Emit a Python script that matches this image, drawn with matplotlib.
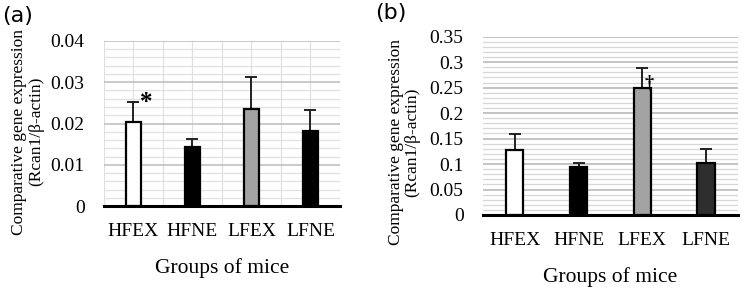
import matplotlib.pyplot as plt
import numpy as np

groups = ["HFEX", "HFNE", "LFEX", "LFNE"]

# panel (a)
means_a = [0.0204, 0.0144, 0.0235, 0.0182]
errs_a = [0.0049, 0.0018, 0.0077, 0.0051]
colors_a = ["white", "black", "#a3a3a3", "black"]

# panel (b)
means_b = [0.127, 0.094, 0.250, 0.102]
errs_b = [0.032, 0.008, 0.038, 0.027]
colors_b = ["white", "black", "#a3a3a3", "#2e2e2e"]

plt.rcParams['font.family'] = ['Liberation Serif', 'DejaVu Serif']

fig = plt.figure(figsize=(7.48, 2.92), dpi=100)
ax_a = fig.add_axes([0.139, 0.2945, 0.3155, 0.5651])
ax_b = fig.add_axes([0.6457, 0.2637, 0.3409, 0.6106])


def draw_panel(ax, means, errs, colors, ymax, major, minor, vgrid, gmaj, gmin):
    x = np.arange(len(groups))
    ax.bar(x, means, 0.27, color=colors, edgecolor="black", linewidth=1.6, zorder=3)
    ax.errorbar(x, means, yerr=[np.zeros(len(errs)), errs], fmt="none",
                ecolor="#222222", elinewidth=1.4, capsize=4, capthick=1.4, zorder=2)
    ax.set_xlim(-0.5, len(groups) - 0.5)
    ax.set_ylim(0, ymax)
    ax.set_yticks(np.arange(0, ymax + major / 2, major))
    ax.set_yticks(np.arange(0, ymax + minor / 2, minor), minor=True)
    ax.grid(axis="y", which="major", color=gmaj, linewidth=1.1, zorder=0)
    ax.grid(axis="y", which="minor", color=gmin, linewidth=0.9, zorder=0)
    if vgrid:
        for v in np.arange(-0.5, len(groups), 0.5):
            ax.axvline(v, color=gmin, linewidth=0.9, zorder=0)
    ax.set_xticks(x)
    ax.set_xticklabels(groups)
    ax.tick_params(axis="both", which="both", length=0, labelsize=14)
    ax.tick_params(axis="y", which="major", pad=14)
    ax.tick_params(axis="x", which="major", pad=12)
    for s in ["left", "right", "top"]:
        ax.spines[s].set_visible(False)
    ax.spines["bottom"].set_linewidth(2.2)
    ax.spines["bottom"].set_zorder(4)
    ax.set_xlabel("Groups of mice", fontsize=15.5, labelpad=13)
    ax.set_ylabel("Comparative gene expression\n(Rcan1/β-actin)", fontsize=12.5,
                  linespacing=1.05)


draw_panel(ax_a, means_a, errs_a, colors_a, 0.04, 0.01, 0.002, True, "#bcbcbc", "#e0e0e0")
ax_a.set_yticklabels(["0", "0.01", "0.02", "0.03", "0.04"])
ax_a.yaxis.set_label_coords(-0.255, 0.45)
draw_panel(ax_b, means_b, errs_b, colors_b, 0.35, 0.05, 0.01, False, "#b4b4b4", "#d6d6d6")
ax_b.set_yticklabels(["0", "0.05", "0.1", "0.15", "0.2", "0.25", "0.3", "0.35"])
ax_b.yaxis.set_label_coords(-0.245, 0.41)

ax_a.text(0.22, 0.0250, "*", fontsize=18, fontweight="bold", ha="center", va="center")
ax_b.text(2.11, 0.259, "†", fontsize=13, fontweight="bold", ha="center", va="center")

fig.text(0.003, 0.945, "(a)", fontsize=16, family="DejaVu Sans", va="center")
fig.text(0.502, 0.955, "(b)", fontsize=16, family="DejaVu Sans", va="center")

fig.savefig("out.png", dpi=100)
